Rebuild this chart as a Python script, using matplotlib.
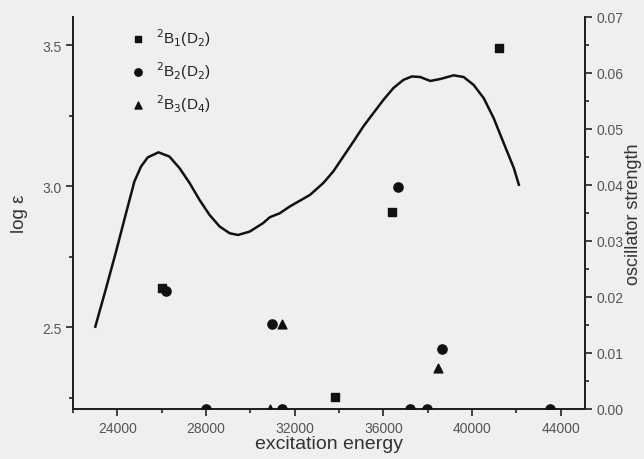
import matplotlib
matplotlib.use("Agg")
import matplotlib.pyplot as plt
from matplotlib.ticker import MultipleLocator, FormatStrFormatter

plt.rcParams['font.family'] = ['Liberation Sans', 'DejaVu Sans']

# absorption curve (log eps, left axis)
curve_e = [23005, 23490, 23940, 24390, 24770, 25070, 25370, 25855, 26350, 26805,
           27260, 27710, 28160, 28615, 29070, 29445, 29970, 30575, 30880, 31330,
           31780, 32690, 33290, 33740, 34195, 34650, 35100, 35550, 36005, 36455,
           36910, 37290, 37665, 38120, 38570, 39170, 39625, 40075, 40530, 40980,
           41435, 41890, 42115]
curve_log = [2.502, 2.638, 2.768, 2.904, 3.017, 3.07, 3.102, 3.12, 3.105, 3.064,
             3.011, 2.951, 2.898, 2.857, 2.833, 2.827, 2.839, 2.869, 2.890, 2.904,
             2.928, 2.969, 3.011, 3.052, 3.105, 3.158, 3.212, 3.259, 3.306, 3.348,
             3.377, 3.389, 3.387, 3.373, 3.380, 3.393, 3.387, 3.359, 3.312, 3.241,
             3.152, 3.064, 3.005]

# oscillator strengths (right axis)
b1_e = [26000, 33820, 36400, 41200]
b1_f = [0.0216, 0.0022, 0.0352, 0.0645]
b2_e = [26200, 28000, 30970, 31420, 36670, 37210, 37980, 38660, 43500]
b2_f = [0.0211, 0.0, 0.0152, 0.0, 0.0396, 0.0, 0.0, 0.0107, 0.0]
b3_e = [30880, 31420, 38480]
b3_f = [0.0, 0.0152, 0.0073]

labels = [r'$^2$B$_1$(D$_2$)', r'$^2$B$_2$(D$_2$)', r'$^2$B$_3$(D$_4$)']

bg = '#efefef'
fig = plt.figure(figsize=(6.44, 4.60), dpi=100, facecolor=bg)
ax = fig.add_axes([0.1134, 0.1087, 0.7950, 0.8523])
ax.set_facecolor(bg)
ax.plot(curve_e, curve_log, color='#111111', lw=1.8, zorder=3)
ax.set_xlim(22000, 45100)
ax.set_ylim(2.21, 3.6)
ax.xaxis.set_major_locator(MultipleLocator(4000))
ax.xaxis.set_minor_locator(MultipleLocator(2000))
ax.yaxis.set_major_locator(MultipleLocator(0.5))
ax.yaxis.set_minor_locator(MultipleLocator(0.25))
ax.set_xlabel('excitation energy', fontsize=14, color='#333333', labelpad=0)
ax.set_ylabel('log ε', fontsize=13.5, color='#333333', labelpad=10)
ax.spines['top'].set_visible(False)

ax2 = ax.twinx()
ax2.scatter(b1_e, b1_f, marker='s', s=36, color='#111111', label=labels[0], zorder=4)
ax2.scatter(b2_e, b2_f, marker='o', s=44, color='#111111', label=labels[1], zorder=4)
ax2.scatter(b3_e, b3_f, marker='^', s=40, color='#111111', label=labels[2], zorder=4)
ax2.set_ylim(0, 0.07)
ax2.yaxis.set_major_locator(MultipleLocator(0.01))
ax2.yaxis.set_minor_locator(MultipleLocator(0.005))
ax2.yaxis.set_major_formatter(FormatStrFormatter('%.2f'))
ax2.set_ylabel('oscillator strength', fontsize=13, color='#333333', labelpad=1)
ax2.spines['top'].set_visible(False)

for a in (ax, ax2):
    a.tick_params(which='both', direction='out', labelsize=10, labelcolor='#555555',
                  width=1.2, color='#222222')
    a.tick_params(which='major', length=5)
    a.tick_params(which='minor', length=3)
    for s in a.spines.values():
        s.set_linewidth(1.4)
        s.set_color('#222222')

leg = ax2.legend(loc='upper left', bbox_to_anchor=(0.07, 1.012), frameon=False,
                 fontsize=11, handletextpad=0.2, labelspacing=0.75,
                 markerscale=0.8)
for t in leg.get_texts():
    t.set_color('#222222')

fig.savefig('out.png', dpi=100, facecolor=bg)
